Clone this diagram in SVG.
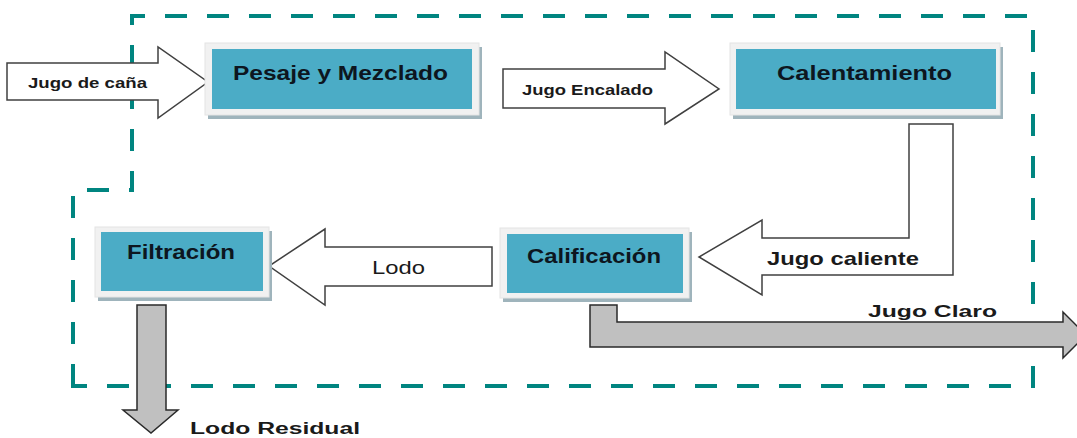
<svg xmlns="http://www.w3.org/2000/svg" width="1077" height="438" viewBox="0 0 1077 438">
<style>
.border{fill:none;stroke:#008580;stroke-width:4;stroke-dasharray:22 20}
.shadow{fill:#9fb4bc}
.frame{fill:#f1f1f1;stroke:#e4e4e4;stroke-width:1}
.fill{fill:#4bacc6}
.lbl{font-family:"Liberation Sans",Arial,sans-serif;font-weight:bold;fill:#0d1620;text-anchor:middle}
.wa{fill:#ffffff;stroke:#404040;stroke-width:1.5;stroke-linejoin:miter}
.ga{fill:#c0c0c0;stroke:#2a2a2a;stroke-width:1.5;stroke-linejoin:miter}
.t{font-family:"Liberation Sans",Arial,sans-serif;fill:#1a1a1a;text-anchor:middle}
</style>
<rect width="1077" height="438" fill="#ffffff"/>
<path class="border" d="M73,386 V190 H132 V16 H1033 V386 Z"/>
<g id="connectors">
<g id="c-jugo-cana"><path class="wa" d="M7,63 H158 V47 L208,82 L158,118 V100 H7 Z"/><text class="t" x="87.5" y="88" font-size="15" font-weight="bold" textLength="119" lengthAdjust="spacingAndGlyphs">Jugo de caña</text></g>
<g id="c-jugo-encalado"><path class="wa" d="M503,69 H665 V52 L719,89 L665,124 V108 H503 Z"/><text class="t" x="587.5" y="95" font-size="15" font-weight="bold" textLength="131" lengthAdjust="spacingAndGlyphs">Jugo Encalado</text></g>
<g id="c-jugo-caliente"><path class="wa" d="M953,124 V275 H762 V295 L699,257 L762,220 V238 H909 V124 Z"/><text class="t" x="843" y="265" font-size="19" font-weight="bold" textLength="152" lengthAdjust="spacingAndGlyphs">Jugo caliente</text></g>
<g id="c-lodo"><path class="wa" d="M492,247 V286 H325 V305 L269,266 L325,229 V247 Z"/><text class="t" x="398.5" y="274" font-size="19" textLength="53" lengthAdjust="spacingAndGlyphs">Lodo</text></g>
<g id="c-jugo-claro"><path class="ga" d="M590,305 H617 V322 H1063 V312 L1086,335 L1063,358 V347 H590 Z"/><text class="t" x="932.5" y="317" font-size="17" font-weight="bold" textLength="129" lengthAdjust="spacingAndGlyphs">Jugo Claro</text></g>
<g id="c-lodo-residual"><path class="ga" d="M137,305 H166 V410 H178 L151,433 L123,410 H137 Z"/><text class="t" x="275" y="434" font-size="16" font-weight="bold" textLength="170" lengthAdjust="spacingAndGlyphs">Lodo Residual</text></g>
</g>
<g id="pesaje">
<rect class="shadow" x="208" y="47" width="274" height="72"/>
<rect class="frame" x="205" y="43" width="274" height="72"/>
<rect class="fill" x="212" y="49" width="260" height="60"/>
<text class="lbl" x="340.5" y="80" font-size="21" textLength="215" lengthAdjust="spacingAndGlyphs">Pesaje y Mezclado</text>
</g>
<g id="calentamiento">
<rect class="shadow" x="733" y="47" width="270" height="72"/>
<rect class="frame" x="730" y="43" width="270" height="72"/>
<rect class="fill" x="736" y="49" width="260" height="60"/>
<text class="lbl" x="864.5" y="80" font-size="21" textLength="175" lengthAdjust="spacingAndGlyphs">Calentamiento</text>
</g>
<g id="calificacion">
<rect class="shadow" x="503" y="232" width="189" height="70"/>
<rect class="frame" x="500" y="228" width="189" height="70"/>
<rect class="fill" x="507" y="234" width="176" height="59"/>
<text class="lbl" x="594" y="263" font-size="20" textLength="134" lengthAdjust="spacingAndGlyphs">Calificación</text>
</g>
<g id="filtracion">
<rect class="shadow" x="98" y="231" width="174" height="70"/>
<rect class="frame" x="95" y="227" width="174" height="70"/>
<rect class="fill" x="101" y="232" width="162" height="59"/>
<text class="lbl" x="181" y="259" font-size="20" textLength="108" lengthAdjust="spacingAndGlyphs">Filtración</text>
</g>
</svg>
